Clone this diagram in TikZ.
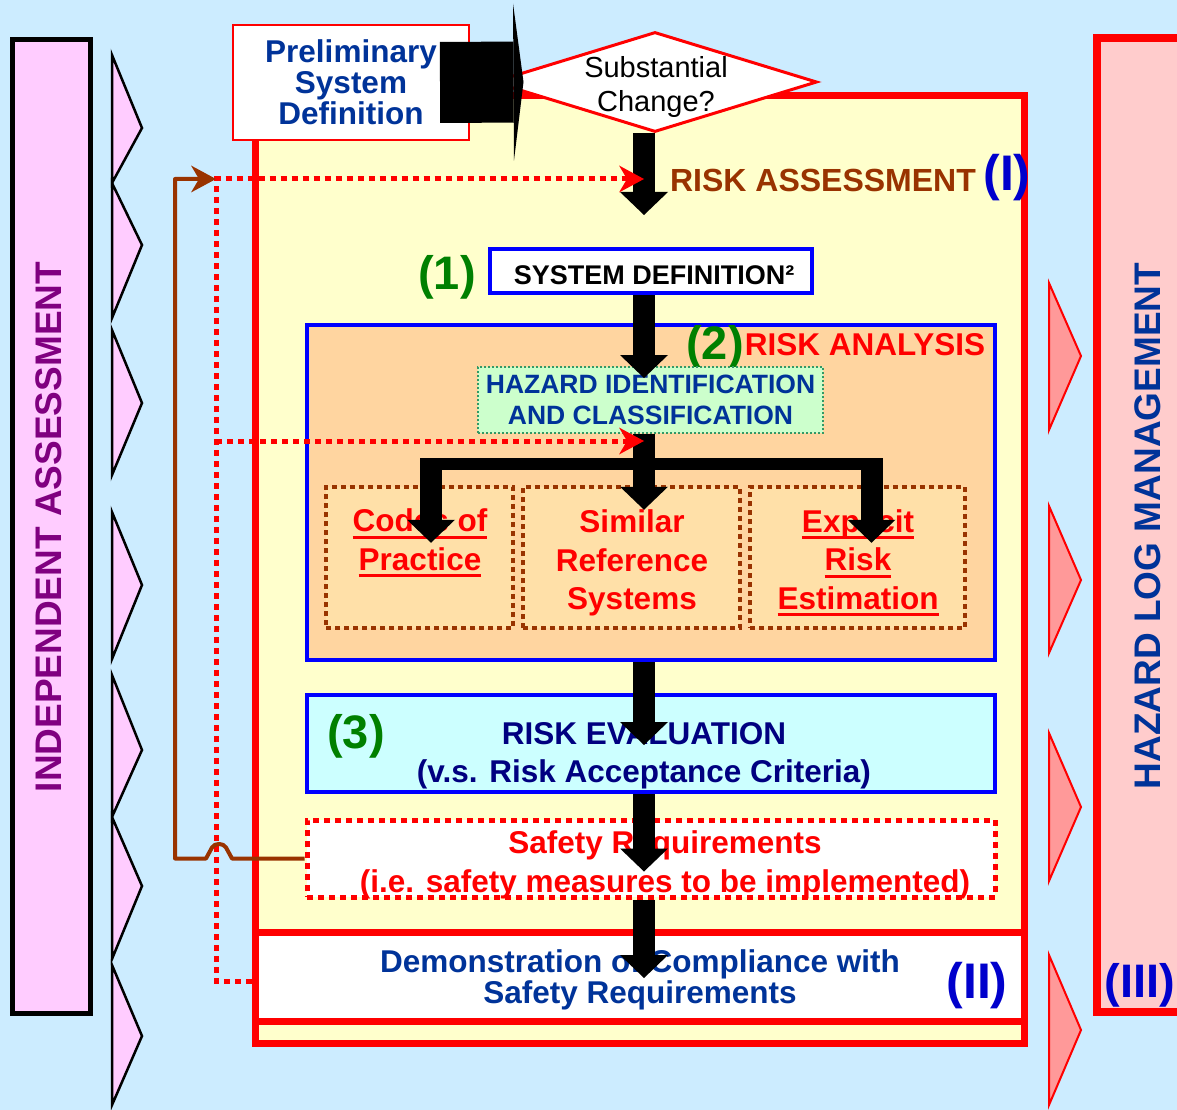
\documentclass[tikz,border=0pt]{standalone}
\usepackage{fontspec}
\setmainfont{Liberation Sans}
\usepackage{tikz}
\usetikzlibrary{arrows.meta,shapes.geometric,calc}
\definecolor{SkyBg}{HTML}{CCECFF}
\definecolor{IaPink}{HTML}{FFCCFF}
\definecolor{IaPurple}{HTML}{800080}
\definecolor{HlRose}{HTML}{FFCCCC}
\definecolor{HlSalmon}{HTML}{FF9999}
\definecolor{PanelYellow}{HTML}{FFFFCC}
\definecolor{PeachDark}{HTML}{FFD5A0}
\definecolor{PeachLight}{HTML}{FFE0A8}
\definecolor{MintFill}{HTML}{CCFFCC}
\definecolor{MintLine}{HTML}{339966}
\definecolor{IceFill}{HTML}{CCFFFF}
\definecolor{RaBrown}{HTML}{993300}
\definecolor{TextBlue}{HTML}{003399}
\definecolor{NumBlue}{HTML}{0000CC}
\definecolor{EvalNavy}{HTML}{000080}
\definecolor{StepGreen}{HTML}{008000}
\newcommand{\ulbar}[1]{\setbox0=\hbox{#1}\rlap{\raisebox{-7pt}{\rule{\wd0}{3pt}}}\box0}

\begin{document}
\begin{tikzpicture}[x=1pt, y=-1pt,
  panel/.style={draw=red, line width=7pt, inner sep=0pt},
  bbox/.style={draw=blue, line width=4pt, inner sep=0pt},
  subbox/.style={draw=RaBrown, line width=4.5pt, dash pattern=on 5pt off 4pt, fill=PeachLight,
                 inner sep=0pt, minimum height=141pt},
  lbl/.style={inner sep=0pt, align=center, font=\fontsize{31.5}{38.5}\selectfont\bfseries},
  stepno/.style={inner sep=0pt, font=\fontsize{47}{47}\selectfont\bfseries, text=StepGreen},
  partno/.style={inner sep=0pt, font=\fontsize{50}{50}\selectfont\bfseries, text=NumBlue},
  sidetxt/.style={inner sep=0pt, rotate=90, font=\fontsize{37}{37}\selectfont\bfseries},
  chevL/.style={draw=black, line width=2.5pt, fill=IaPink},
  chevR/.style={draw=red, line width=2pt, fill=HlSalmon},
  blk/.style={line width=22pt, -{Triangle[width=48pt,length=23pt,line width=0pt]}},
  tbar/.style={line width=12pt},
  rdot/.style={red, line width=5pt, dash pattern=on 6pt off 5pt,
               -{Stealth[length=25pt,width=27pt,inset=8pt,line width=0pt]}},
  brn/.style={RaBrown, line width=4pt, line join=round,
              -{Stealth[length=25pt,width=27pt,inset=8pt,line width=0pt]}}]
\useasboundingbox (0,0) rectangle (1177,1110);
\clip (0,0) rectangle (1177,1110);
\fill[SkyBg] (0,0) rectangle (1177,1110);

% independent assessment
\node[draw=black, line width=5pt, fill=IaPink, minimum width=78pt, minimum height=973pt, inner sep=0pt] (ia) at (51,526.5) {};
\node[sidetxt, text=IaPurple] (iat) at (48.5,527) {INDEPENDENT ASSESSMENT};
\foreach \t/\m/\b in {55/128/183, 183/245/318, 330/403/475, 512/585/659, 675/750/817, 817/886/959, 965/1036/1105}
  \draw[chevL] (112,\t) -- (142,\m) -- (112,\b) -- cycle;

% hazard log
\node[draw=red, line width=8pt, fill=HlRose, minimum width=100pt, minimum height=974pt, inner sep=0pt] (hl) at (1147,525) {};
\node[sidetxt, text=TextBlue] (hlt) at (1147.5,526) {HAZARD LOG MANAGEMENT};
\node[partno, font=\fontsize{47}{47}\selectfont\bfseries] (p3) at (1140,985) {(III)};
\foreach \t/\m/\b in {283/356/430, 506/580/653, 733/807/881, 955/1030/1105}
  \draw[chevR] (1049,\t) -- (1081,\m) -- (1049,\b) -- cycle;

% risk assessment frame
\node[panel, fill=PanelYellow, minimum width=769pt, minimum height=947pt] (ra) at (639.5,569.5) {};
\node[panel, fill=white, minimum width=769pt, minimum height=89pt] (demo) at (639.5,976.5) {};
\node[lbl, font=\fontsize{31.5}{31}\selectfont\bfseries, text=TextBlue] (demot) at (640,980)
  {Demonstration of Compliance with\\Safety Requirements};
\node[partno] (p2) at (977,986) {(II)};

\node[draw=red, line width=2pt, fill=white, minimum width=236pt, minimum height=115pt, inner sep=0pt,
  lbl, font=\fontsize{31.5}{31}\selectfont\bfseries, text=TextBlue] (pre) at (351,82.5) {Preliminary\\System\\Definition};
\node[diamond, draw=red, line width=3pt, fill=white, minimum width=324pt, minimum height=100pt, inner sep=0pt] (dia) at (655,82) {};
\node[lbl, font=\fontsize{29}{34}\selectfont] (diat) at (656,87) {Substantial\\Change?};

\node[lbl, font=\fontsize{32}{32}\selectfont\bfseries, text=RaBrown] (rat) at (823,180) {RISK ASSESSMENT};
\node[partno] (p1) at (1007,178) {(I)};

% (1) system definition
\node[bbox, fill=white, minimum width=322pt, minimum height=44pt] (sdef) at (651,271) {};
\node[lbl, font=\fontsize{27}{27}\selectfont\bfseries] (sdeft) at (654,275) {SYSTEM DEFINITION²};
\node[stepno] (n1) at (447,277) {(1)};

% (2) risk analysis
\node[bbox, fill=PeachDark, minimum width=688pt, minimum height=335pt] (ranal) at (651,492.5) {};
\node[stepno] (n2) at (715,347) {(2)};
\node[lbl, font=\fontsize{31.5}{31.5}\selectfont\bfseries, text=red] (ranalt) at (865,345) {RISK ANALYSIS};
\node[draw=MintLine, line width=2pt, dash pattern=on 2pt off 2pt, fill=MintFill, minimum width=345pt, minimum height=66pt,
  lbl, font=\fontsize{26.5}{31}\selectfont\bfseries, text=TextBlue] (haz) at (650.5,400) {HAZARD IDENTIFICATION\\AND CLASSIFICATION};
\node[subbox, minimum width=187pt] (codes) at (419.5,557.5) {};
\node[subbox, minimum width=217pt] (simil) at (631.5,557.5) {};
\node[subbox, minimum width=215pt] (expl) at (857.5,557.5) {};
\node[lbl, text=red] (codest) at (420,543) {\ulbar{Codes of}\\\ulbar{Practice}};
\node[lbl, text=red] (similt) at (632,563) {Similar\\Reference\\Systems};
\node[lbl, text=red] (explt) at (858,563) {\ulbar{Explicit}\\\ulbar{Risk}\\\ulbar{Estimation}};

% (3) risk evaluation
\node[bbox, fill=IceFill, minimum width=688pt, minimum height=97pt] (reval) at (651,743.5) {};
\node[stepno] (n3) at (356,736) {(3)};
\node[lbl, font=\fontsize{31.5}{38}\selectfont\bfseries, text=EvalNavy] (revalt) at (644,756)
  {RISK EVALUATION\\(v.s. Risk Acceptance Criteria)};

\node[draw=red, line width=5pt, dash pattern=on 6pt off 5pt, fill=white, minimum width=688pt, minimum height=77pt, inner sep=0pt] (sreq) at (651,858.5) {};
\node[lbl, font=\fontsize{31.5}{39}\selectfont\bfseries, text=red] (sreqt) at (665,865)
  {Safety Requirements\\(i.e. safety measures to be implemented)};

% flow
\coordinate (sp) at (644,0);
\coordinate (raTip) at (644,215);
\coordinate (jL) at (420,464);
\coordinate (jR) at (883,464);
\draw[blk] (dia.south -| sp) -- (raTip);
\draw[blk] (sdef.south -| sp) -- ($(haz.north -| sp)+(0,12)$);
\draw[blk] (haz.south -| sp) -- ($(simil.north -| sp)+(0,25)$);
\draw[tbar] (jL) -- (jR);
\draw[blk] ($(jL)+(11,-6)$) -- ($(codes.north)+(11.5,58)$);
\draw[blk] ($(jR)+(-11.5,-6)$) -- ($(expl.north)+(14,58)$);
\draw[blk] (ranal.south -| sp) -- ($(reval.north -| sp)+(0,52)$);
\draw[blk] (reval.south -| sp) -- ($(sreq.north -| sp)+(0,54)$);
\draw[blk] (sreq.south -| sp) -- ($(demo.north -| sp)+(0,49.5)$);
\draw[line width=81pt, -{Triangle[width=157pt,length=10pt,line width=0pt]}] ([xshift=-30pt]pre.east) -- ([xshift=32pt]dia.west);

% assessment loops
\coordinate (lx) at (216,179);
\coordinate (lh) at (216,441);
\coordinate (bx) at (175,179);
\draw[rdot] ([yshift=-4.5pt]demo.west) -| (lx) -- (lx -| sp);
\draw[rdot] (lh) -- (lh -| sp);
\draw[brn] (sreq.west) -- ($(sreq.west -| lx)+(16,0)$) -- ++(-6,-11) to[out=120,in=60] ++(-14,0) -- ++(-6,11)
  -- (sreq.west -| bx) -- (bx) -- (lx);
\end{tikzpicture}
\end{document}
